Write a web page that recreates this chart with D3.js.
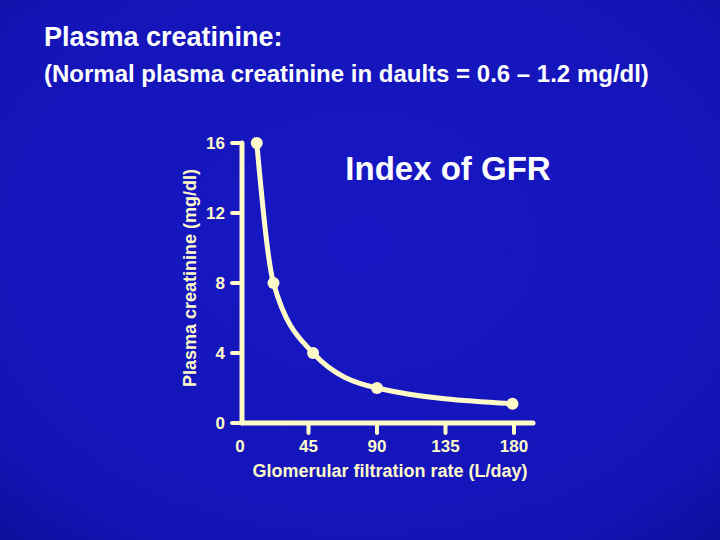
<!DOCTYPE html>
<html><head><meta charset="utf-8">
<script src="https://cdn.jsdelivr.net/npm/d3@7"></script>
<style>body{margin:0}svg{display:block}</style></head>
<body><script>
// data
const gfr = [11, 22, 48, 90, 179];
const creat = [16, 8, 4, 2, 1.1];
const xTicks = [0, 45, 90, 135, 180];
const yTicks = [0, 4, 8, 12, 16];

const W = 720, H = 540;
const cream = "#fffbc8";
const svg = d3.select("body").append("svg").attr("width", W).attr("height", H)
  .style("font-family", "Liberation Sans, Arial, sans-serif");

const grad = svg.append("defs").append("radialGradient").attr("id", "bg")
  .attr("cx", "50%").attr("cy", "45%").attr("r", "80%");
grad.append("stop").attr("offset", "0%").attr("stop-color", "#1818c4");
grad.append("stop").attr("offset", "75%").attr("stop-color", "#1414b8");
grad.append("stop").attr("offset", "100%").attr("stop-color", "#0c0c90");
svg.append("rect").attr("width", W).attr("height", H).attr("fill", "url(#bg)");

svg.append("text").attr("x", 44).attr("y", 46).attr("fill", "#fff")
  .attr("font-size", 27).attr("font-weight", "bold").text("Plasma creatinine:");
svg.append("text").attr("x", 44).attr("y", 82).attr("fill", "#fff")
  .attr("font-size", 24).attr("font-weight", "bold")
  .text("(Normal plasma creatinine in daults = 0.6 – 1.2 mg/dl)");

const x = d3.scaleLinear().domain([0, 180]).range([240, 514]);
const y = d3.scaleLinear().domain([0, 16]).range([423, 143]);

const g = svg.append("g").attr("stroke", cream).attr("stroke-linecap", "round");
g.append("line").attr("x1", 242).attr("x2", 242).attr("y1", y(16)).attr("y2", y(0)).attr("stroke-width", 5);
g.append("line").attr("x1", 242).attr("x2", 533).attr("y1", y(0)).attr("y2", y(0)).attr("stroke-width", 5);
g.selectAll(".yt").data(yTicks).join("line")
  .attr("x1", 232).attr("x2", 242).attr("y1", d => y(d)).attr("y2", d => y(d)).attr("stroke-width", 4);
g.selectAll(".xt").data(xTicks.slice(1)).join("line")
  .attr("x1", d => x(d)).attr("x2", d => x(d)).attr("y1", y(0)).attr("y2", y(0) + 10).attr("stroke-width", 4);

svg.selectAll(".yl").data(yTicks).join("text")
  .attr("x", 225).attr("y", d => y(d) + 6).attr("text-anchor", "end")
  .attr("fill", cream).attr("font-size", 17).attr("font-weight", "bold").text(d => d);
svg.selectAll(".xl").data(xTicks).join("text")
  .attr("x", d => x(d)).attr("y", 452).attr("text-anchor", "middle")
  .attr("fill", cream).attr("font-size", 17).attr("font-weight", "bold").text(d => d);

svg.append("text").attr("x", 390).attr("y", 477).attr("text-anchor", "middle")
  .attr("fill", cream).attr("font-size", 18).attr("font-weight", "bold")
  .text("Glomerular filtration rate (L/day)");
svg.append("text").attr("transform", "translate(196,278) rotate(-90)").attr("text-anchor", "middle")
  .attr("fill", cream).attr("font-size", 18).attr("font-weight", "bold")
  .text("Plasma creatinine (mg/dl)");
svg.append("text").attr("x", 448).attr("y", 180).attr("text-anchor", "middle")
  .attr("fill", "#fff").attr("font-size", 33).attr("font-weight", "bold").text("Index of GFR");

const pts = gfr.map((v, i) => [v, creat[i]]);
svg.append("path").datum(pts)
  .attr("d", d3.line().x(d => x(d[0])).y(d => y(d[1])).curve(d3.curveMonotoneX))
  .attr("fill", "none").attr("stroke", cream).attr("stroke-width", 5);
svg.selectAll("circle").data(pts).join("circle")
  .attr("cx", d => x(d[0])).attr("cy", d => y(d[1])).attr("r", 6).attr("fill", cream);
</script></body></html>
